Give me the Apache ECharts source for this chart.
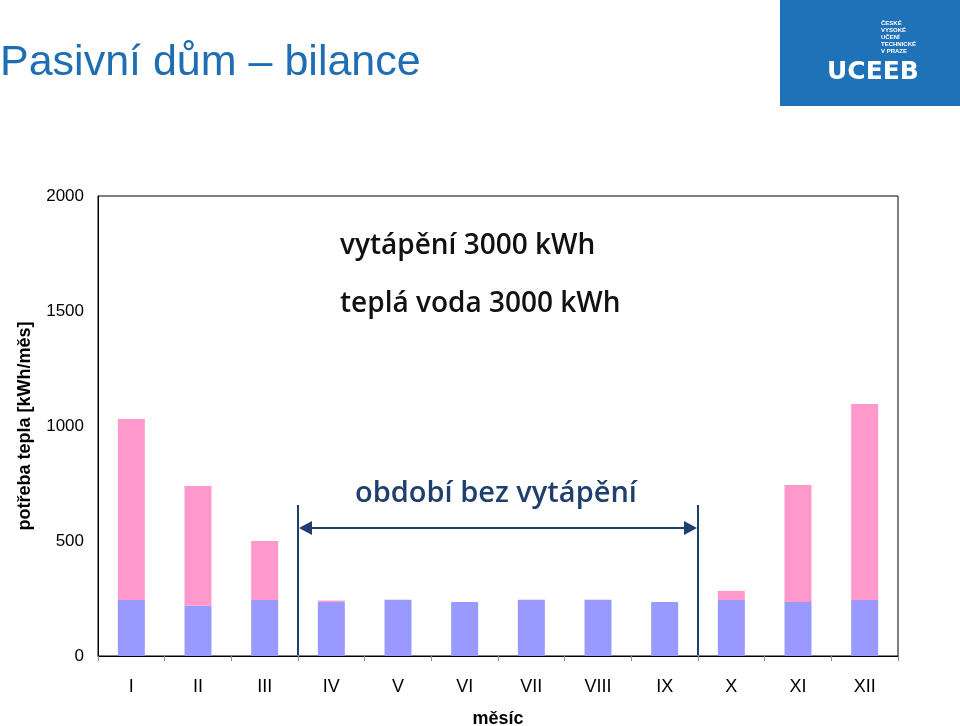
<!DOCTYPE html>
<html><head><meta charset="utf-8">
<script src="https://cdn.jsdelivr.net/npm/echarts@6/dist/echarts.min.js"></script>
<style>html,body{margin:0;padding:0;background:#fff}#c{width:960px;height:726px}</style>
</head><body><div id="c"></div>
<script>
const months = ['I','II','III','IV','V','VI','VII','VIII','IX','X','XI','XII'];
const hotWater = [243,218,243,235,245,235,245,245,235,243,235,243];
const heating = [787,521,257,6,0,0,0,0,0,40,508,853];
const yTicks = [0,500,1000,1500,2000];

const chart = echarts.init(document.getElementById('c'));
const font = 'Liberation Sans, Arial, sans-serif';
chart.setOption({
  animation:false,
  grid:{left:98,right:62,top:196,bottom:70,show:true,borderColor:'#000',borderWidth:1,containLabel:false,outerBoundsMode:'none'},
  xAxis:{type:'category',data:months,name:'měsíc',nameLocation:'middle',nameGap:54,
    nameTextStyle:{fontFamily:font,fontWeight:'bold',fontSize:18,color:'#000'},
    axisLine:{lineStyle:{color:'#000'}},axisTick:{show:true,length:5,lineStyle:{color:'#888'}},
    axisLabel:{fontFamily:font,fontSize:18,color:'#000',margin:22}},
  yAxis:{type:'value',min:0,max:2000,interval:500,name:'potřeba tepla [kWh/měs]',nameLocation:'middle',nameGap:64,
    nameTextStyle:{fontFamily:font,fontWeight:'bold',fontSize:18,color:'#000'},
    splitLine:{show:false},axisLine:{show:true,lineStyle:{color:'#000'}},axisTick:{show:false},
    axisLabel:{fontFamily:font,fontSize:17,color:'#000',margin:14,formatter:v=>yTicks.includes(v)?String(v):''}},
  series:[
    {type:'bar',stack:'a',data:hotWater,barWidth:27,itemStyle:{color:'#9999ff'}},
    {type:'bar',stack:'a',data:heating,barWidth:27,itemStyle:{color:'#ff99cc'}}
  ]
});
const x3 = chart.convertToPixel({xAxisIndex:0},'III'), x4 = chart.convertToPixel({xAxisIndex:0},'IV');
const x9 = chart.convertToPixel({xAxisIndex:0},'IX'), x10 = chart.convertToPixel({xAxisIndex:0},'X');
const xa=(x3+x4)/2, xb=(x9+x10)/2, ya=528;
const col='#1f3f6e';
chart.setOption({graphic:[
  {type:'text',left:0,top:42,style:{text:'Pasivní dům – bilance',fontFamily:font,fontSize:43,fill:'#1f6db3'}},
  {type:'rect',shape:{x:780,y:0,width:180,height:106},style:{fill:'#1f72b8'}},
  {type:'text',x:827,y:60,style:{text:'UCEEB',fontFamily:'DejaVu Sans',fontWeight:'bold',fontSize:25,fill:'#fff'}},
  {type:'text',x:881,y:20,style:{text:'ČESKÉ\nVYSOKÉ\nUČENÍ\nTECHNICKÉ\nV PRAZE',fontFamily:font,fontWeight:'bold',fontSize:6,lineHeight:7,fill:'#fff'}},
  {type:'text',left:340,top:232,style:{text:'vytápění 3000 kWh',fontFamily:'Open Sans',fontWeight:600,fontSize:28,fill:'#111'}},
  {type:'text',left:340,top:290,style:{text:'teplá voda 3000 kWh',fontFamily:'Open Sans',fontWeight:600,fontSize:28,fill:'#111'}},
  {type:'text',left:355,top:479,style:{text:'období bez vytápění',fontFamily:'Open Sans',fontWeight:600,fontSize:29,fill:col}},
  {type:'line',shape:{x1:xa,y1:505,x2:xa,y2:655},style:{stroke:col,lineWidth:2}},
  {type:'line',shape:{x1:xb,y1:505,x2:xb,y2:655},style:{stroke:col,lineWidth:2}},
  {type:'line',shape:{x1:xa+8,y1:ya,x2:xb-8,y2:ya},style:{stroke:col,lineWidth:2}},
  {type:'polygon',shape:{points:[[xa+1,ya],[xa+14,ya-7],[xa+14,ya+7]]},style:{fill:col}},
  {type:'polygon',shape:{points:[[xb-1,ya],[xb-14,ya-7],[xb-14,ya+7]]},style:{fill:col}}
]});
</script></body></html>
